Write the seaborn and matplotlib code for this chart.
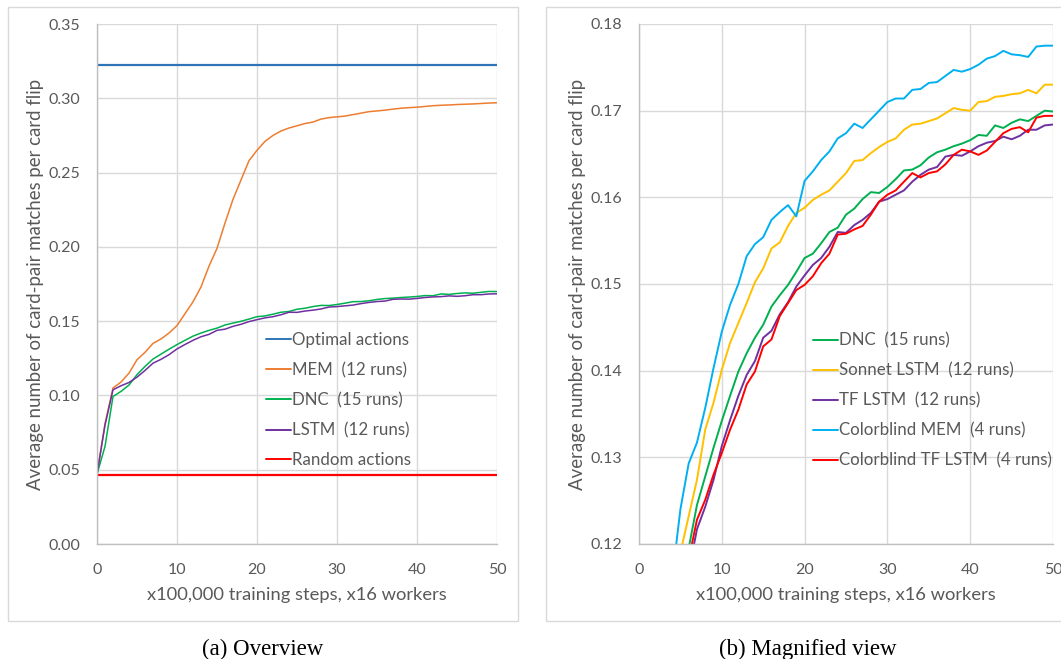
import numpy as np
import pandas as pd
import seaborn as sns
import matplotlib.pyplot as plt
from matplotlib.patches import Rectangle

steps = list(range(0, 51))

optimal_level = 0.3225
random_level = 0.0465

mem = [0.047, 0.081, 0.105, 0.109, 0.115, 0.124, 0.129, 0.135, 0.138, 0.142,
       0.147, 0.155, 0.163, 0.173, 0.187, 0.199, 0.216, 0.232, 0.245, 0.258,
       0.265, 0.271, 0.275, 0.278, 0.280, 0.2815, 0.283, 0.284, 0.286, 0.287,
       0.2875, 0.288, 0.289, 0.290, 0.291, 0.2915, 0.292, 0.2927, 0.2933, 0.2937,
       0.294, 0.2945, 0.295, 0.2953, 0.2955, 0.2958, 0.296, 0.2962, 0.2965, 0.2968,
       0.297]

dnc = [0.047, 0.0657, 0.0993, 0.1027, 0.107, 0.114, 0.1195, 0.1245, 0.1278, 0.1311,
       0.1342, 0.1371, 0.1399, 0.142, 0.1438, 0.1453, 0.1474, 0.1487, 0.1499, 0.1514,
       0.153, 0.1535, 0.1547, 0.156, 0.1565, 0.158, 0.1587, 0.1598, 0.1606, 0.1605,
       0.1612, 0.1621, 0.1631, 0.1632, 0.1637, 0.1646, 0.1652, 0.1655, 0.1659, 0.1662,
       0.1666, 0.1672, 0.1671, 0.1683, 0.168, 0.1686, 0.169, 0.1688, 0.1694, 0.170,
       0.1699]

tf_lstm = [0.047, 0.080, 0.1038, 0.1065, 0.1087, 0.1123, 0.1168, 0.1217, 0.1243, 0.1274,
           0.1313, 0.1343, 0.1371, 0.1395, 0.1411, 0.1438, 0.1446, 0.1465, 0.1479, 0.1497,
           0.151, 0.1522, 0.153, 0.1543, 0.156, 0.1559, 0.1568, 0.1574, 0.1582, 0.1595,
           0.1598, 0.1603, 0.1608, 0.1618, 0.1626, 0.1632, 0.1635, 0.1647, 0.1649, 0.1648,
           0.1653, 0.1659, 0.1663, 0.1665, 0.167, 0.1667, 0.1671, 0.1678, 0.1678, 0.1683,
           0.1684]

sonnet_lstm = [0.047, 0.080, 0.100, 0.105, 0.110, 0.119, 0.1232, 0.1274, 0.1332, 0.1363,
               0.1401, 0.1432, 0.1455, 0.1478, 0.1502, 0.1518, 0.1541, 0.1548, 0.1567, 0.1582,
               0.1588, 0.1597, 0.1603, 0.1608, 0.1618, 0.1628, 0.1642, 0.1643, 0.1651, 0.1658,
               0.1664, 0.1668, 0.1678, 0.1684, 0.1685, 0.1688, 0.1691, 0.1697, 0.1703, 0.1701,
               0.170, 0.171, 0.1711, 0.1716, 0.1717, 0.1719, 0.172, 0.1724, 0.172, 0.173,
               0.173]

cb_mem = [0.047, 0.080, 0.100, 0.106, 0.116, 0.124, 0.1293, 0.1317, 0.1357, 0.1403,
          0.1445, 0.1476, 0.150, 0.1532, 0.1546, 0.1554, 0.1574, 0.1583, 0.1591, 0.1578,
          0.1619, 0.163, 0.1643, 0.1653, 0.1668, 0.1674, 0.1685, 0.168, 0.169, 0.170,
          0.171, 0.1714, 0.1714, 0.1724, 0.1725, 0.1732, 0.1733, 0.174, 0.1747, 0.1745,
          0.1748, 0.1753, 0.176, 0.1763, 0.1769, 0.1765, 0.1764, 0.1762, 0.1774, 0.1775,
          0.1775]

cb_tf_lstm = [0.047, 0.080, 0.100, 0.104, 0.108, 0.112, 0.1182, 0.1228, 0.1251, 0.128,
              0.1305, 0.1332, 0.1355, 0.1384, 0.1399, 0.1428, 0.1436, 0.1463, 0.1478, 0.1493,
              0.1499, 0.1509, 0.1524, 0.1535, 0.1557, 0.1558, 0.1563, 0.1567, 0.158, 0.1595,
              0.1603, 0.1608, 0.1618, 0.1628, 0.1623, 0.1628, 0.163, 0.1638, 0.1649, 0.1655,
              0.1653, 0.1649, 0.1654, 0.1664, 0.1674, 0.1679, 0.1681, 0.1675, 0.1692, 0.1694,
              0.1694]

left_series = [
    ("Optimal actions", [optimal_level] * len(steps), "#2E75B6", 1.6),
    ("MEM  (12 runs)", mem, "#ED7D31", 1.1),
    ("DNC  (15 runs)", dnc, "#00B050", 1.1),
    ("LSTM  (12 runs)", tf_lstm, "#7030A0", 1.1),
    ("Random actions", [random_level] * len(steps), "#FF0000", 1.6),
]

right_series = [
    ("DNC  (15 runs)", dnc, "#00B050"),
    ("Sonnet LSTM  (12 runs)", sonnet_lstm, "#FFC000"),
    ("TF LSTM  (12 runs)", tf_lstm, "#7030A0"),
    ("Colorblind MEM  (4 runs)", cb_mem, "#00B0F0"),
    ("Colorblind TF LSTM  (4 runs)", cb_tf_lstm, "#FF0000"),
]

sns.set_theme(style="whitegrid")
plt.rcParams['font.family'] = ['Lato', 'DejaVu Sans']
text_color = '#595959'
grid_color = '#D9D9D9'

fig = plt.figure(figsize=(10.61, 6.59), dpi=100)
fig.patch.set_facecolor('white')

# panel borders like the Excel chart area
fig.patches.append(Rectangle((8 / 1061, 38 / 659), 510 / 1061, 614 / 659, transform=fig.transFigure,
                             fill=False, edgecolor=grid_color, linewidth=1.0))
fig.patches.append(Rectangle((546 / 1061, 38 / 659), 530 / 1061, 614 / 659, transform=fig.transFigure,
                             fill=False, edgecolor=grid_color, linewidth=1.0))

ax1 = fig.add_axes([97 / 1061, 115 / 659, 400 / 1061, 520 / 659])
ax2 = fig.add_axes([639 / 1061, 115 / 659, 414 / 1061, 520 / 659])


def style_axis(ax, ylim, yticks, fmt):
    ax.set_xlim(0, 50)
    ax.set_ylim(*ylim)
    ax.set_xticks(range(0, 51, 10))
    ax.set_yticks(yticks)
    ax.set_yticklabels([fmt.format(v) for v in yticks])
    ax.grid(True, color=grid_color, linewidth=1.0)
    ax.set_facecolor('white')
    for side in ['top', 'right']:
        ax.spines[side].set_visible(False)
    for side in ['left', 'bottom']:
        ax.spines[side].set_color('#BFBFBF')
        ax.spines[side].set_linewidth(1.0)
    ax.tick_params(axis='both', length=0, labelsize=11.5, colors=text_color)
    ax.tick_params(axis='y', pad=12)
    ax.tick_params(axis='x', pad=14)
    ax.set_xlabel("x100,000 training steps, x16 workers", fontsize=13.2, color=text_color, labelpad=7)
    ax.set_ylabel("Average number of card-pair matches per card flip", fontsize=13.4,
                  color=text_color, labelpad=3)


for label, vals, color, lw in left_series:
    sns.lineplot(x=steps, y=vals, ax=ax1, color=color, linewidth=lw, label=label)

for label, vals, color in right_series:
    sns.lineplot(x=steps, y=vals, ax=ax2, color=color, linewidth=1.4, label=label)

style_axis(ax1, (0, 0.35), np.arange(0, 0.351, 0.05), "{:.2f}")
style_axis(ax2, (0.12, 0.18), np.arange(0.12, 0.1801, 0.01), "{:.2f}")

for ax, anchor in [(ax1, (0.405, 0.42)), (ax2, (0.403, 0.42))]:
    leg = ax.legend(loc='upper left', bbox_to_anchor=anchor, frameon=False, fontsize=12.2,
                    handlelength=1.5, handletextpad=0.05, labelspacing=0.82, borderaxespad=0)
    for t in leg.get_texts():
        t.set_color(text_color)
    for h in leg.get_lines():
        h.set_linewidth(1.4)

fig.text(263 / 1061, 1 - 649 / 659, "(a) Overview", ha='center', va='center',
         fontsize=16.5, family='Liberation Serif', color='black')
fig.text(808 / 1061, 1 - 649 / 659, "(b) Magnified view", ha='center', va='center',
         fontsize=16.5, family='Liberation Serif', color='black')

fig.savefig("out.png", dpi=100)
